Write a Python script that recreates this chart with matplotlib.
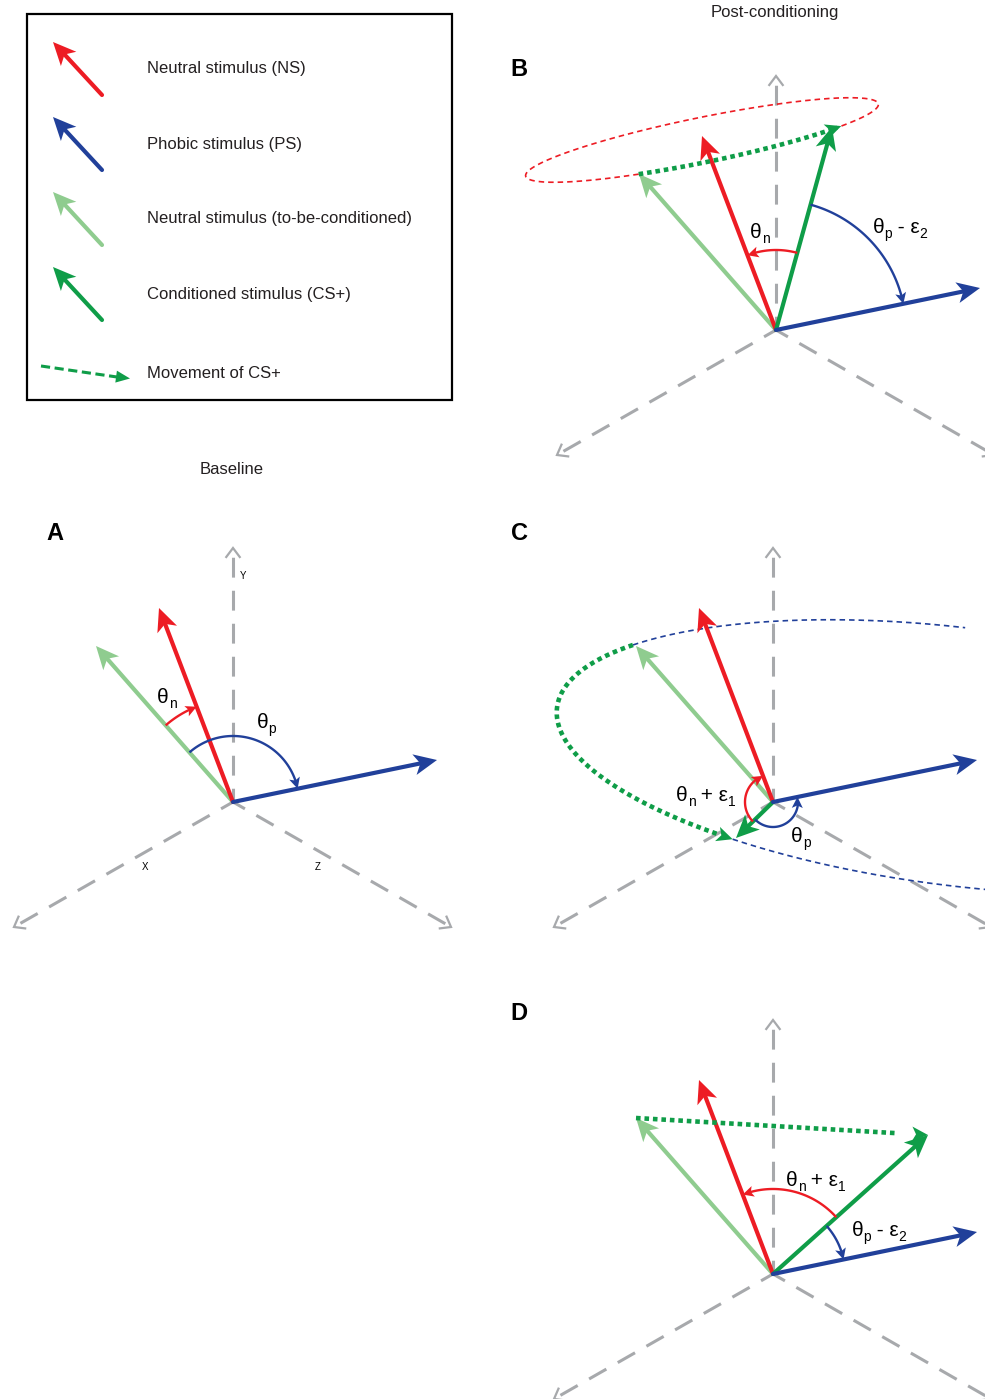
import numpy as np
import matplotlib.pyplot as plt
from matplotlib.patches import Polygon, Rectangle

plt.rcParams['font.family'] = ['Liberation Sans', 'DejaVu Sans']

RED = '#ed1c24'
BLUE = '#21409a'
LGREEN = '#8fcc8f'
DGREEN = '#0f9d48'
GREY = '#a7a9ac'
INK = '#231f20'

# panel origins, in figure pixels
origins = {'A': (233, 802), 'B': (776, 330), 'C': (773, 802), 'D': (773, 1274)}
letters = {'A': (55, 534), 'B': (519, 70), 'C': (519, 534), 'D': (519, 1014)}
titles = [('Baseline', (232, 470)), ('Post-conditioning', (775, 13))]

# reference axes drawn from each origin
axis_x = (-219, 125)
axis_y = (0, -254)
axis_z = (218, 125)

# stimulus vectors, relative to the panel origin
ns_vec = (-74, -194)      # neutral stimulus
tbc_vec = (-137, -156)    # to-be-conditioned stimulus
ps_vec = (204, -42)       # phobic stimulus
cs_vec = {'B': (56, -203), 'C': (-37, 36), 'D': (155, -139)}

# angle arcs: panel, from, to, radius, colour
arcs = [
    ('A', 'tbc', 'ns', 102, RED), ('A', 'tbc', 'ps', 66, BLUE),
    ('B', 'cs', 'ns', 80, RED), ('B', 'cs', 'ps', 130, BLUE),
    ('C', 'cs', 'ns', 28, RED), ('C', 'cs', 'ps', 25, BLUE),
    ('D', 'cs', 'ns', 85, RED), ('D', 'cs', 'ps', 72, BLUE),
]
# angle labels as (text, subscript) pieces
arc_labels = [
    ([('θ', 'n')], (167, 697)),
    ([('θ', 'p')], (266, 722)),
    ([('θ', 'n')], (760, 232)),
    ([('θ', 'p'), (' - ε', '2')], (900, 227)),
    ([('θ', 'n'), (' + ε', '1')], (706, 795)),
    ([('θ', 'p')], (801, 836)),
    ([('θ', 'n'), (' + ε', '1')], (816, 1180)),
    ([('θ', 'p'), (' - ε', '2')], (879, 1230)),
]

# rotation cones traced by the CS+ (centre, semi-axes, tilt in degrees)
cone_b = ((702, 140), 180, 22.5, -11.56)
cone_c = ((960, 757), 406, 129, 7.0)

legend_items = ['Neutral stimulus (NS)', 'Phobic stimulus (PS)',
                'Neutral stimulus (to-be-conditioned)',
                'Conditioned stimulus (CS+)', 'Movement of CS+']
legend_colors = [RED, BLUE, LGREEN, DGREEN]

fig = plt.figure(figsize=(9.85, 13.99), dpi=100)
ax = fig.add_axes([0, 0, 1, 1])
ax.set_xlim(0, 985)
ax.set_ylim(1399, 0)
ax.axis('off')
renderer = fig.canvas.get_renderer()


def unit(v):
    v = np.asarray(v, float)
    return v / np.hypot(*v)


def head(tip, d, length, half, notch, color, z):
    tip = np.asarray(tip, float)
    n = np.array([-d[1], d[0]])
    base = tip - d * length
    pts = [tip, base + n * half, base + d * notch, base - n * half]
    ax.add_patch(Polygon(pts, closed=True, fc=color, ec='none', zorder=z))


def vector(start, vec, color, lw=3.0, z=3):
    start = np.asarray(start, float)
    tip = start + np.asarray(vec, float)
    d = unit(vec)
    end = tip - d * 16
    ax.plot([start[0], end[0]], [start[1], end[1]], color=color, lw=lw,
            solid_capstyle='round', zorder=z)
    head(tip, d, 23, 10.5, 6, color, z)


def open_head(tip, d, size=9, color=GREY):
    n = np.array([-d[1], d[0]])
    back = np.asarray(tip) - d * size
    p1, p2 = back + n * size * 0.75, back - n * size * 0.75
    ax.plot([p1[0], tip[0], p2[0]], [p1[1], tip[1], p2[1]], color=color,
            lw=1.6, solid_joinstyle='miter', zorder=1)


def ref_axes(o):
    o = np.asarray(o, float)
    for v in (axis_x, axis_y, axis_z):
        tip = o + np.asarray(v)
        d = unit(v)
        end = tip - d * 3
        ax.plot([o[0], end[0]], [o[1], end[1]], color=GREY, lw=2.2,
                linestyle=(2, (6.5, 4.3)), zorder=1)
        open_head(tip, d)


def ang(v):
    return np.degrees(np.arctan2(-v[1], v[0]))


def angle_arc(o, v0, v1, r, color):
    a0 = ang(v0)
    sweep = (ang(v1) - a0 + 180) % 360 - 180
    a1 = a0 + sweep
    sgn = np.sign(sweep)
    hl = 11.0
    a_end = a1 - sgn * np.degrees(hl * 0.6 / r)
    t = np.radians(np.linspace(a0, a_end, 80))
    ax.plot(o[0] + r * np.cos(t), o[1] - r * np.sin(t), color=color, lw=1.7,
            solid_capstyle='butt', zorder=5)
    ta = np.radians(a1)
    tb = np.radians(a1 - sgn * np.degrees(hl / r))
    tip = np.array([o[0] + r * np.cos(ta), o[1] - r * np.sin(ta)])
    back = np.array([o[0] + r * np.cos(tb), o[1] - r * np.sin(tb)])
    head(tip, unit(tip - back), hl, 5.5, 2.5, color, 5)


def label(pieces, centre, size=15, sub_size=10, drop=5):
    # lay out main text and subscripts one after another, then centre them
    items = []
    for main, sub in pieces:
        items.append((main, size, 0))
        items.append((sub, sub_size, drop))
    texts, widths = [], []
    for s, fs, dy in items:
        t = ax.text(0, 0, s, fontsize=fs, ha='left', va='baseline', zorder=6)
        widths.append(t.get_window_extent(renderer).width)
        texts.append((t, dy))
    x = centre[0] - sum(widths) / 2
    base = centre[1] + 6
    for (t, dy), w in zip(texts, widths):
        t.set_position((x, base + dy))
        x += w


def cone_pts(cone, t0, t1):
    (cx, cy), a, b, rot = cone
    r = np.radians(rot)
    u = np.array([np.cos(r), np.sin(r)])
    v = np.array([-np.sin(r), np.cos(r)])
    t = np.radians(np.linspace(t0, t1, 200))
    x = cx + a * np.cos(t) * u[0] + b * np.sin(t) * v[0]
    y = cy + a * np.cos(t) * u[1] + b * np.sin(t) * v[1]
    return x, y


def cone_param(cone, q):
    (cx, cy), a, b, rot = cone
    r = np.radians(rot)
    d = np.asarray(q, float) - (cx, cy)
    cu = (d[0] * np.cos(r) + d[1] * np.sin(r)) / a
    cv = (-d[0] * np.sin(r) + d[1] * np.cos(r)) / b
    return np.degrees(np.arctan2(cv, cu))


def movement(x, y, z=4):
    ax.plot(x[:-6], y[:-6], color=DGREEN, lw=3.3, linestyle=(0, (1, 0.85)),
            solid_capstyle='butt', zorder=z)
    d = unit((x[-1] - x[-8], y[-1] - y[-8]))
    head((x[-1], y[-1]), d, 16, 7.5, 4, DGREEN, z)


def vec_of(p, name):
    return {'ns': ns_vec, 'tbc': tbc_vec, 'ps': ps_vec}.get(name, cs_vec.get(p))


# legend
ax.add_patch(Rectangle((27, 14), 425, 386, fc='none', ec='black', lw=1.6, zorder=2))
for i, (txt, c) in enumerate(zip(legend_items[:4], legend_colors)):
    y0 = 95 + 75 * i
    vector((102, y0), (-49, -53), c, lw=3.0)
    ax.text(147, y0 - 26, txt, fontsize=12, va='center', ha='left', color=INK)
ax.plot([41, 117], [366, 377], color=DGREEN, lw=2.2, linestyle=(0, (3, 1.5)), zorder=3)
head((130, 378.5), unit((89, 12)), 14, 6, 0, DGREEN, 3)
ax.text(147, 374, legend_items[4], fontsize=12, va='center', ha='left', color=INK)

# reference frames, panel letters and titles
for p, o in origins.items():
    ref_axes(o)
    ax.text(*letters[p], p, fontsize=17, fontweight='bold', ha='center', va='center')
for t, pos in titles:
    ax.text(*pos, t, fontsize=12, ha='center', va='center', color=INK)
oa = np.asarray(origins['A'])
ax.text(oa[0] + 10, oa[1] - 226, 'Y', fontsize=7, ha='center', va='center')
ax.text(oa[0] - 88, oa[1] + 65, 'X', fontsize=7, ha='center', va='center')
ax.text(oa[0] + 85, oa[1] + 65, 'Z', fontsize=7, ha='center', va='center')

# cone in panel B: red dotted trace, green dotted CS+ movement on its lower rim
ob = np.asarray(origins['B'])
t_tbc = cone_param(cone_b, ob + tbc_vec)
t_cs = cone_param(cone_b, ob + cs_vec['B'])
x, y = cone_pts(cone_b, t_tbc, t_cs + 360)
ax.plot(x, y, color=RED, lw=1.2, linestyle=(0, (3.3, 2.4)), zorder=2)
x, y = cone_pts(cone_b, t_tbc, t_cs)
movement(x, y)

# cone in panel C: blue dotted trace, CS+ swings round to the far side
oc = np.asarray(origins['C'])
t_tbc = cone_param(cone_c, oc + tbc_vec) % 360
t_cs = cone_param(cone_c, oc + cs_vec['C']) % 360
x, y = cone_pts(cone_c, t_tbc, 268.5)
ax.plot(x, y, color=BLUE, lw=1.2, linestyle=(0, (3.3, 2.4)), zorder=2)
x, y = cone_pts(cone_c, t_cs, 84)
ax.plot(x, y, color=BLUE, lw=1.2, linestyle=(0, (3.3, 2.4)), zorder=2)
x, y = cone_pts(cone_c, t_tbc, t_cs)
movement(x, y)

# panel D: straight move of the CS+
od = np.asarray(origins['D'])
p0, p1 = od + tbc_vec, od + cs_vec['D']
movement(np.linspace(p0[0], p1[0], 60), np.linspace(p0[1], p1[1], 60))

# stimulus vectors
for p, o in origins.items():
    vector(o, tbc_vec, LGREEN, z=3)
    vector(o, ns_vec, RED, z=3)
    if p in cs_vec:
        vector(o, cs_vec[p], DGREEN, z=4)
    vector(o, ps_vec, BLUE, z=4)

# angles between vectors
for p, a, b, r, c in arcs:
    angle_arc(origins[p], vec_of(p, a), vec_of(p, b), r, c)
for pieces, pos in arc_labels:
    label(pieces, pos)

fig.savefig('out.png', dpi=100)
